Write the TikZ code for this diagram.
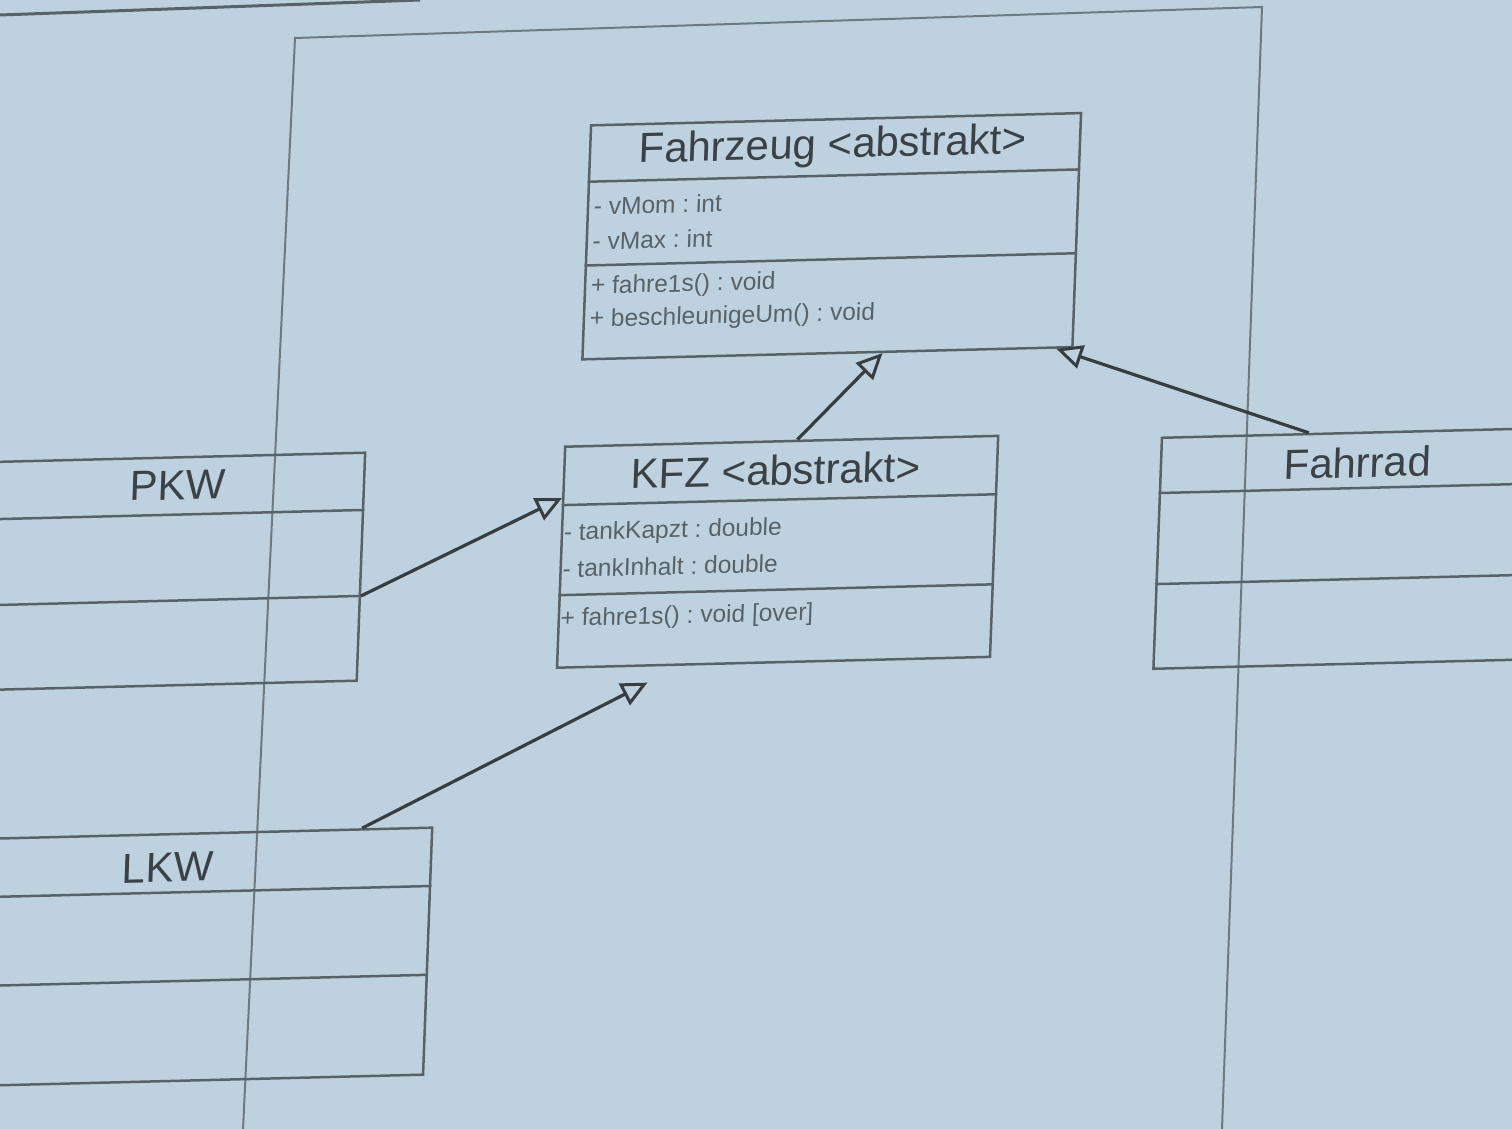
\documentclass[tikz,border=0pt]{standalone}
\usepackage{fontspec}
\setmainfont{Liberation Sans}
\usetikzlibrary{arrows.meta,calc}
\definecolor{bg}{RGB}{189,210,222}
\definecolor{boxc}{RGB}{88,98,104}
\definecolor{conc}{RGB}{55,62,66}
\definecolor{framec}{RGB}{110,122,130}
\definecolor{ttlc}{RGB}{58,66,72}
\definecolor{attc}{RGB}{88,98,105}
\frenchspacing
\begin{document}
\begin{tikzpicture}[x=1pt,y=1pt,
  classbox/.style={draw=boxc, line width=2.5pt, inner sep=0pt, anchor=north west},
  sepline/.style={draw=boxc, line width=2.5pt},
  ttl/.style={text=ttlc, font=\fontsize{42}{50}\selectfont, anchor=base, inner sep=0pt},
  att/.style={text=attc, font=\fontsize{24.5}{28}\selectfont, anchor=base west, inner sep=0pt},
  inherit/.style={draw=conc, line width=3.2pt, -{Triangle[open, length=26pt, width=24pt, line width=3pt]}},
  framel/.style={draw=framec, line width=2pt}]
\fill[bg] (0,0) rectangle (1512,-1129);
\useasboundingbox (0,0) rectangle (1512,-1129);
\clip (0,0) rectangle (1512,-1129);
% outer frame of the sheet
\draw[framel] (242.5,-1140) -- (295,-38) -- (1262,-7) -- (1221.6,-1140);
\draw[framel, line width=3pt, draw=boxc] (0,-15) -- (420,0);
\begin{scope}[cm={1,0.025,0.037,1,(0,0)}, every node/.append style={transform shape}]
  % Fahrzeug
  \node[classbox, minimum width=490pt, minimum height=234pt] (fz) at (595,-139) {};
  \node[ttl] (fzt) at (839,-179) {Fahrzeug <abstrakt>};
  \node[att] (fza1) at (602,-230) {- vMom : int};
  \node[att] (fza2) at (602,-265) {- vMax : int};
  \node[att] (fzm1) at (602,-309) {+ fahre1s() : void};
  \node[att] (fzm2) at (602,-342) {+ beschleunigeUm() : void};
  % KFZ
  \node[classbox, minimum width=433pt, minimum height=221pt] (kfz) at (581,-460) {};
  \node[ttl] (kfzt) at (794,-505) {KFZ <abstrakt>};
  \node[att] (kfza1) at (584,-555) {- tankKapzt : double};
  \node[att] (kfza2) at (584,-592) {- tankInhalt : double};
  \node[att] (kfzm1) at (584,-641) {+ fahre1s() : void [over]};
  % PKW
  \node[classbox, minimum width=400pt, minimum height=228pt] (pkw) at (-19,-461) {};
  \node[ttl] (pkwt) at (196,-504.5) {PKW};
  % LKW
  \node[classbox, minimum width=522pt, minimum height=247pt] (lkw) at (-60,-838) {};
  \node[ttl] (lkwt) at (200,-887) {LKW};
  % Fahrrad
  \node[classbox, minimum width=400pt, minimum height=231pt] (fr) at (1178,-466) {};
  \node[ttl] (frt) at (1376,-512) {Fahrrad};
  % compartment lines
  \foreach \n/\a/\b in {fz/0.2436/0.598, kfz/0.267/0.670, pkw/0.254/0.627, lkw/0.239/0.595, fr/0.242/0.632} {
    \draw[sepline] ($(\n.north west)!\a!(\n.south west)$) -- ($(\n.north east)!\a!(\n.south east)$);
    \draw[sepline] ($(\n.north west)!\b!(\n.south west)$) -- ($(\n.north east)!\b!(\n.south east)$);
  }
  % generalisations
  \draw[inherit] ($(kfz.north west)!0.536!(kfz.north east)$) -- ($(fz.south west)!0.612!(fz.south east)$);
  \draw[inherit] ($(fr.north west)!0.368!(fr.north east)$) -- ($(fz.south west)!0.965!(fz.south east)$);
  \draw[inherit] ($(pkw.north east)!0.627!(pkw.south east)$) -- ($(kfz.north west)!0.235!(kfz.south west)$);
  \draw[inherit] ($(lkw.north west)!0.864!(lkw.north east)$) -- ($(kfz.south west)!0.212!(kfz.south east)+(0,-16)$);
\end{scope}
\end{tikzpicture}
\end{document}
